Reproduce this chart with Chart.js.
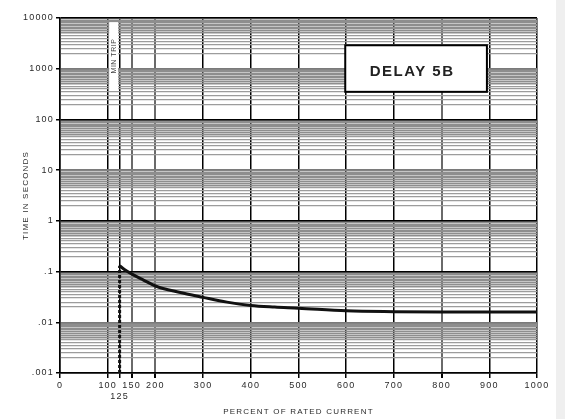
<!DOCTYPE html>
<html><head><meta charset="utf-8">
<script src="https://cdn.jsdelivr.net/npm/chart.js@4"></script>
<style>
html,body{margin:0;padding:0;background:#efefef;}
#wrap{width:556px;height:419px;background:#fff;}
canvas{display:block;}
</style></head><body>
<div id="wrap"><canvas id="c" width="556" height="419"></canvas></div>
<script>
// ---- data ----
const curvePercent = [125, 135, 150, 175, 200, 250, 300, 350, 400, 450, 500, 600, 700, 800, 900, 1000];
const curveSeconds = [0.13, 0.11, 0.09, 0.068, 0.052, 0.039, 0.031, 0.025, 0.0215, 0.0200, 0.0190, 0.0168, 0.0162, 0.0160, 0.0160, 0.0160];
const pickupPercent = [125, 125];
const pickupSeconds = [0.001, 0.13];
const xTickValues = [0, 100, 125, 150, 200, 300, 400, 500, 600, 700, 800, 900, 1000];
const yDecades = [0.001, 0.01, 0.1, 1, 10, 100, 1000, 10000];
const yDecadeLabels = ['.001', '.01', '.1', '1', '10', '100', '1000', '10000'];
const minorMultipliers = [2, 2.5, 3, 3.5, 4, 4.5, 5, 5.5, 6, 6.5, 7, 7.5, 8, 8.5, 9, 9.5];
const boldDecades = [0.001, 0.1, 1, 100, 10000];
const grayXLines = [150, 200, 800];
const boxLabel = 'DELAY 5B';
const pickupLabel = 'MIN TRIP';
const xTitle = 'PERCENT OF RATED CURRENT';
const yTitle = 'TIME IN SECONDS';

function mantissa(v) {
  const e = Math.floor(Math.log10(v) + 1e-9);
  return v / Math.pow(10, e);
}
function decadeIndex(v) {
  for (let i = 0; i < yDecades.length; i++) {
    if (Math.abs(Math.log10(v) - Math.log10(yDecades[i])) < 1e-6) return i;
  }
  return -1;
}
const yTickValues = [];
for (let i = 0; i < yDecades.length - 1; i++) {
  yTickValues.push(yDecades[i]);
  minorMultipliers.forEach(m => yTickValues.push(+(yDecades[i] * m).toPrecision(6)));
}
yTickValues.push(yDecades[yDecades.length - 1]);

Chart.defaults.font.family = "'Liberation Sans', Arial, sans-serif";
Chart.defaults.font.size = 9;
Chart.defaults.color = '#2a2a2a';

const spacingPlugin = {
  id: 'spacing',
  beforeDraw(chart) { chart.ctx.letterSpacing = '1.2px'; }
};

const annotPlugin = {
  id: 'annot',
  afterDatasetsDraw(chart) {
    const {ctx, scales: {x, y}} = chart;
    ctx.save();
    const bx1 = x.getPixelForValue(598), bx2 = x.getPixelForValue(895);
    const by1 = y.getPixelForValue(2900), by2 = y.getPixelForValue(350);
    ctx.fillStyle = '#fff';
    ctx.fillRect(bx1, by1, bx2 - bx1, by2 - by1);
    ctx.strokeStyle = '#000';
    ctx.lineWidth = 2;
    ctx.strokeRect(bx1, by1, bx2 - bx1, by2 - by1);
    ctx.fillStyle = '#222';
    ctx.letterSpacing = '1.5px';
    ctx.font = "bold 15px 'Liberation Sans', Arial, sans-serif";
    ctx.textAlign = 'center';
    ctx.textBaseline = 'middle';
    ctx.fillText(boxLabel, (bx1 + bx2) / 2 - 4, (by1 + by2) / 2 + 3);
    const px1 = x.getPixelForValue(100) + 1.5, px2 = x.getPixelForValue(125) - 1.5;
    const py1 = y.getPixelForValue(8300), py2 = y.getPixelForValue(380);
    ctx.fillStyle = '#fff';
    ctx.fillRect(px1, py1, px2 - px1, py2 - py1);
    ctx.translate((px1 + px2) / 2, (py1 + py2) / 2);
    ctx.rotate(-Math.PI / 2);
    ctx.fillStyle = '#444';
    ctx.letterSpacing = '0.5px';
    ctx.font = "7px 'Liberation Sans', Arial, sans-serif";
    ctx.fillText(pickupLabel, 0, 0);
    ctx.restore();
  }
};

function isBold(v) {
  return boldDecades.some(d => Math.abs(Math.log10(d) - Math.log10(v)) < 1e-6);
}

new Chart(document.getElementById('c'), {
  type: 'line',
  data: {
    datasets: [
      {
        data: curvePercent.map((v, i) => ({x: v, y: curveSeconds[i]})),
        borderColor: '#111', borderWidth: 3, pointRadius: 0,
        cubicInterpolationMode: 'monotone', fill: false
      },
      {
        data: pickupPercent.map((v, i) => ({x: v, y: pickupSeconds[i]})),
        borderColor: '#111', borderWidth: 3, borderDash: [3, 2], pointRadius: 0, fill: false
      }
    ]
  },
  options: {
    responsive: false,
    animation: false,
    layout: {padding: {left: 0, right: 19, top: 18, bottom: 1}},
    plugins: {legend: {display: false}, tooltip: {enabled: false}},
    scales: {
      x: {
        type: 'linear', min: 0, max: 1000,
        afterBuildTicks: s => { s.ticks = xTickValues.map(v => ({value: v})); },
        afterFit: s => { s.height = 45; },
        ticks: {
          autoSkip: false, maxRotation: 0, padding: 2,
          callback: v => v === 125 ? ['', '125'] : String(v)
        },
        grid: {
          color: c => grayXLines.includes(c.tick && c.tick.value) ? '#6a6a6a' : '#000',
          lineWidth: c => grayXLines.includes(c.tick && c.tick.value) ? 2 : 1.5,
          tickColor: '#000', tickLength: 5
        },
        border: {color: '#000', width: 1.5},
        title: {display: true, text: xTitle, padding: {top: 2, bottom: 1}, font: {size: 8}}
      },
      y: {
        type: 'logarithmic', min: 0.001, max: 10000,
        z: -1,
        afterBuildTicks: s => { s.ticks = yTickValues.map(v => ({value: v})); },
        afterFit: s => { s.width = 60; },
        ticks: {
          autoSkip: false, padding: 2,
          callback: v => { const i = decadeIndex(v); return i >= 0 ? yDecadeLabels[i] : ''; }
        },
        grid: {
          color: c => {
            const v = c.tick && c.tick.value;
            if (v === undefined) return '#999';
            if (isBold(v)) return '#000';
            if (decadeIndex(v) >= 0) return '#7a7a7a';
            return mantissa(v) >= 5 ? '#8e8e8e' : '#9c9c9c';
          },
          lineWidth: c => {
            const v = c.tick && c.tick.value;
            if (v === undefined) return 1;
            if (isBold(v)) return 1.5;
            if (decadeIndex(v) >= 0) return 1.5;
            return mantissa(v) >= 5 ? 1.6 : 1.2;
          },
          tickColor: c => decadeIndex(c.tick.value) >= 0 ? '#000' : 'rgba(0,0,0,0)',
          tickLength: 4
        },
        border: {color: '#000', width: 1.5},
        title: {display: true, text: yTitle, padding: {top: 21, bottom: 0}, font: {size: 8}}
      }
    }
  },
  plugins: [spacingPlugin, annotPlugin]
});
</script>
</body></html>
